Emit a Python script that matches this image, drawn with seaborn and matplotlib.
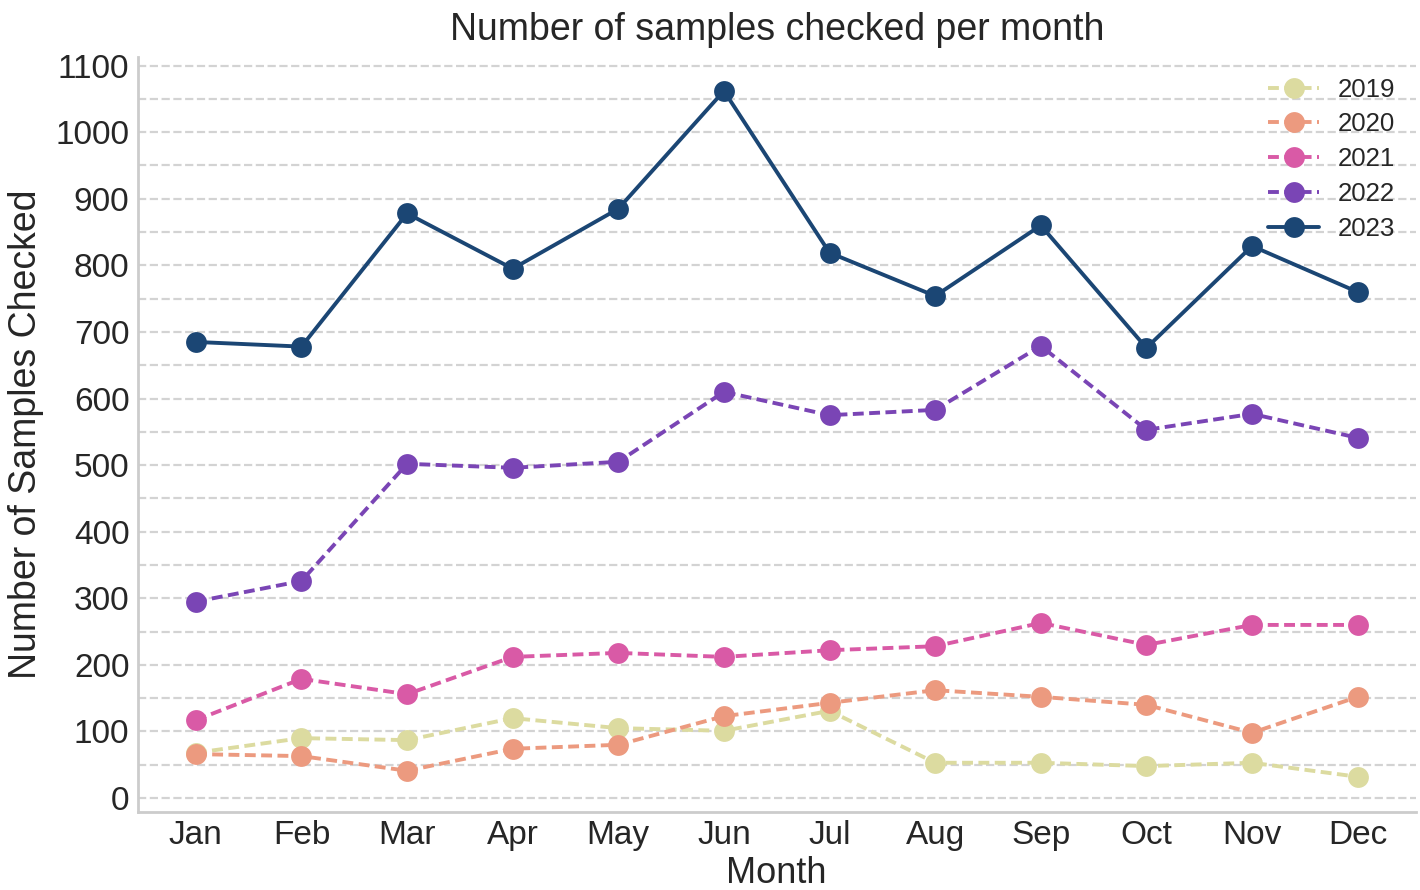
import numpy as np
import pandas as pd
import matplotlib
matplotlib.use("Agg")
import matplotlib.pyplot as plt
from matplotlib.ticker import MultipleLocator
import seaborn as sns

months = ["Jan", "Feb", "Mar", "Apr", "May", "Jun", "Jul", "Aug", "Sep", "Oct", "Nov", "Dec"]
years = ["2019", "2020", "2021", "2022", "2023"]
v2019 = [68, 90, 87, 120, 105, 101, 131, 53, 53, 48, 53, 32]
v2020 = [66, 63, 41, 74, 80, 123, 143, 162, 152, 140, 98, 152]
v2021 = [117, 179, 156, 212, 218, 212, 222, 228, 263, 230, 260, 260]
v2022 = [295, 326, 502, 496, 505, 610, 575, 583, 679, 553, 577, 541]
v2023 = [685, 678, 878, 795, 885, 1062, 819, 754, 860, 676, 829, 760]
colors = ["#dcdba0", "#ec9a7f", "#d95aa6", "#7a45b5", "#1b4674"]

series = [v2019, v2020, v2021, v2022, v2023]
df = pd.DataFrame({
    "Month": months * len(years),
    "Samples": sum(series, []),
    "Year": [y for y in years for _ in months],
})

sns.set_theme(style="whitegrid")
plt.rcParams["font.family"] = ["Liberation Sans", "DejaVu Sans"]
text_color = "#262626"

fig, ax = plt.subplots(figsize=(7.1, 4.45), dpi=200)
palette = dict(zip(years, colors))
dashes = {y: (2.8, 1.4) for y in years[:-1]}
dashes["2023"] = ""
markers = {y: "o" for y in years}
sns.lineplot(data=df, x="Month", y="Samples", hue="Year", style="Year",
             palette=palette, dashes=dashes, markers=markers, sort=False,
             linewidth=1.4, markersize=7.5, markeredgewidth=0, ax=ax)

ax.set_ylim(-21, 1113)
ax.set_xlim(-0.55, 11.55)
ax.yaxis.set_major_locator(MultipleLocator(100))
ax.yaxis.set_minor_locator(MultipleLocator(50))
ax.grid(False, axis="x")
ax.grid(True, axis="y", which="both", linestyle="--", color="#d3d3d3", linewidth=0.8)
for s in ["top", "right"]:
    ax.spines[s].set_visible(False)
for s in ["left", "bottom"]:
    ax.spines[s].set_color("#cccccc")
    ax.spines[s].set_linewidth(1.0)
ax.tick_params(axis="both", labelsize=12, colors=text_color, length=0, pad=3)
ax.set_title("Number of samples checked per month", fontsize=13.5, color=text_color, pad=6)
ax.set_xlabel("Month", fontsize=13, color=text_color, labelpad=1.5)
ax.set_ylabel("Number of Samples Checked", fontsize=13.5, color=text_color, labelpad=4)

leg = ax.legend(loc="upper right", frameon=False, fontsize=9.3, title=None,
                handlelength=2.0, labelspacing=0.42, borderaxespad=0.4,
                handletextpad=0.7)
for t in leg.get_texts():
    t.set_color(text_color)

fig.subplots_adjust(left=0.097, right=0.997, top=0.936, bottom=0.0876)
fig.savefig("out.png", dpi=200)
